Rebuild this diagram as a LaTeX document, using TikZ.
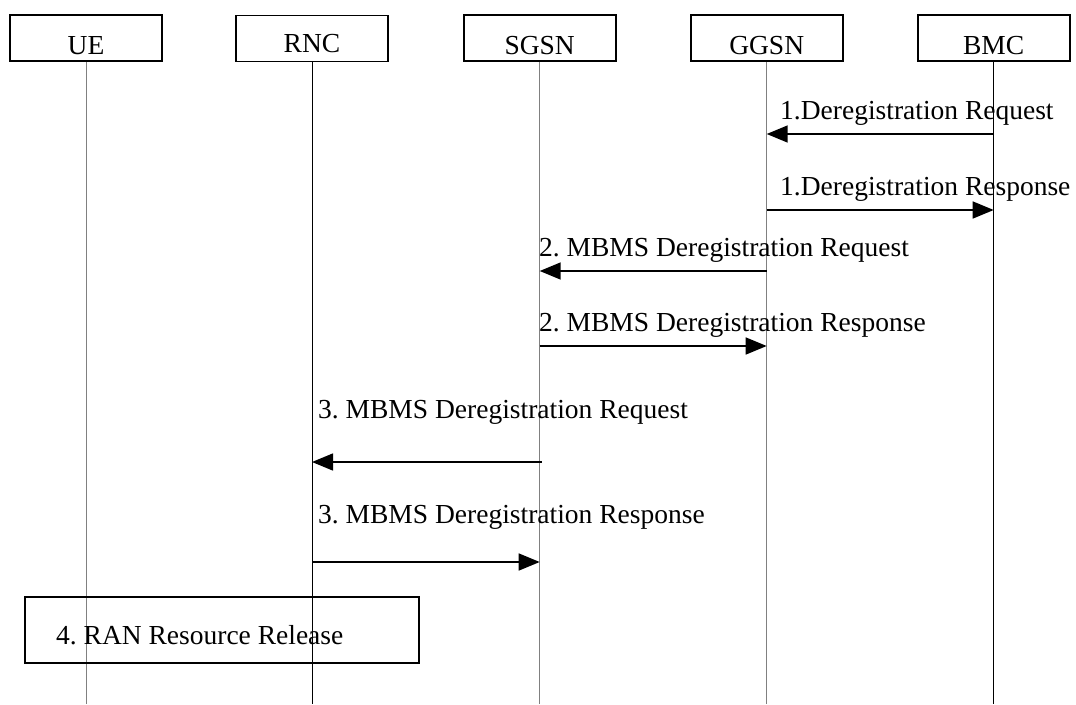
\documentclass[tikz,border=0pt]{standalone}
\usepackage{fontspec}
\setmainfont{Liberation Serif}
\usetikzlibrary{arrows.meta}
\frenchspacing
\begin{document}
\begin{tikzpicture}[x=1pt,y=-1pt,
  entity/.style={draw=black,line width=1.6pt,minimum width=152pt,minimum height=46pt,inner sep=0pt,
    font=\fontsize{27.5}{32}\selectfont,text height=33pt,text depth=0pt},
  lifeblack/.style={draw=black,line width=0.9pt},
  lifegray/.style={draw=black!50,line width=0.9pt},
  msg/.style={draw=black,line width=1.5pt,-{Triangle[length=21pt,width=17pt]}},
  msglbl/.style={anchor=base west,inner sep=0pt,font=\fontsize{27.5}{32}\selectfont},
  stepframe/.style={draw=black,line width=1.6pt}]
\useasboundingbox (0,0) rectangle (1076,704);
% entities
\node[entity] (ue) at (86,38) {UE};
\node[entity,text height=28pt] (rnc) at (312,38.3) {RNC};
\node[entity] (sgsn) at (539.7,38) {SGSN};
\node[entity] (ggsn) at (766.7,38) {GGSN};
\node[entity] (bmc) at (993.7,38) {BMC};
\coordinate (bot) at (0,704);
% lifelines
\draw[lifegray] (ue.south) -- (ue |- bot);
\draw[lifeblack] (rnc.south) -- (rnc |- bot);
\draw[lifegray] (sgsn.south) -- (sgsn |- bot);
\draw[lifegray] (ggsn.south) -- (ggsn |- bot);
\draw[lifeblack] (bmc.south) -- (bmc |- bot);
% message rows
\coordinate (r1) at (0,134);
\coordinate (r2) at (0,210);
\coordinate (r3) at (0,271);
\coordinate (r4) at (0,346);
\coordinate (r5) at (0,462);
\coordinate (r6) at (0,562);
\draw[msg] (bmc |- r1) -- (ggsn |- r1);
\draw[msg] (ggsn |- r2) -- (bmc |- r2);
\draw[msg] (ggsn |- r3) -- (sgsn |- r3);
\draw[msg] (sgsn |- r4) -- (ggsn |- r4);
\draw[msg] ([xshift=2pt]sgsn |- r5) -- (rnc |- r5);
\draw[msg] (rnc |- r6) -- (sgsn |- r6);
% labels
\node[msglbl] (l1) at (780,119) {1.Deregistration Request};
\node[msglbl] (l2) at (780,195) {1.Deregistration Response};
\node[msglbl] (l3) at (539,256) {2. MBMS Deregistration Request};
\node[msglbl] (l4) at (539,331) {2. MBMS Deregistration Response};
\node[msglbl] (l5) at (318,418) {3. MBMS Deregistration Request};
\node[msglbl] (l6) at (318,523) {3. MBMS Deregistration Response};
% step 4
\node[stepframe,minimum width=394pt,minimum height=66pt,inner sep=0pt] (s4) at (222,630) {};
\node[msglbl] (s4t) at (56,644) {4. RAN Resource Release};
\end{tikzpicture}
\end{document}
